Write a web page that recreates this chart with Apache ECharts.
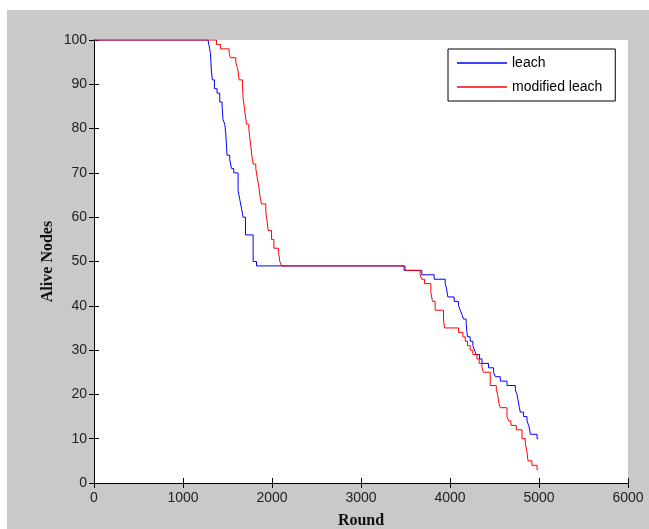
<!DOCTYPE html>
<html>
<head>
<meta charset="utf-8">
<script src="https://cdn.jsdelivr.net/npm/echarts@6/dist/echarts.min.js"></script>
<style>
  html, body { margin: 0; padding: 0; background: #fff; }
  #chart { position: absolute; left: 7px; top: 10px; width: 642px; height: 519px; }
</style>
</head>
<body>
<div id="chart"></div>
<script>
var seriesNames = ['leach', 'modified leach'];
var xTicks = [0, 1000, 2000, 3000, 4000, 5000, 6000];
var yTicks = [0, 10, 20, 30, 40, 50, 60, 70, 80, 90, 100];

// [round, alive nodes] - value holds from that round on
var leachData = [
    [0, 100], [1281, 100], [1290, 99], [1300, 98], [1308, 97], [1319, 93], [1330, 91],
    [1353, 89], [1383, 88], [1413, 86], [1439, 85], [1450, 82], [1469, 81], [1480, 79],
    [1495, 74], [1525, 73], [1545, 71], [1570, 70], [1619, 66], [1638, 64], [1657, 62],
    [1675, 60], [1702, 56], [1788, 50], [1826, 49], [3484, 48], [3683, 47], [3822, 46],
    [3946, 45], [3960, 44], [3976, 42], [4047, 41], [4096, 40], [4115, 39], [4135, 38],
    [4152, 37], [4182, 36], [4190, 34], [4197, 33], [4227, 32], [4257, 31], [4276, 30],
    [4294, 29], [4332, 28], [4359, 27], [4433, 26], [4490, 25], [4509, 24], [4565, 23],
    [4640, 22], [4734, 21], [4753, 20], [4762, 19], [4771, 18], [4780, 17], [4790, 16],
    [4827, 15], [4865, 14], [4884, 13], [4895, 12], [4903, 11], [4978, 10], [4990, 10]
];
var modifiedData = [
    [0, 100], [1376, 99], [1420, 98], [1518, 97], [1533, 96], [1593, 95], [1605, 94],
    [1619, 93], [1630, 91], [1668, 90], [1675, 87], [1694, 84], [1713, 81], [1739, 80],
    [1750, 78], [1762, 76], [1773, 74], [1788, 72], [1818, 71], [1833, 69], [1852, 67],
    [1863, 65], [1882, 63], [1931, 61], [1946, 59], [1957, 57], [1995, 55], [2021, 53],
    [2074, 52], [2088, 50], [2107, 49], [3496, 48], [3664, 47], [3683, 46], [3713, 45],
    [3785, 43], [3803, 41], [3833, 39], [3927, 37], [3938, 35], [4096, 34], [4145, 33],
    [4171, 32], [4197, 31], [4227, 30], [4257, 29], [4303, 28], [4328, 27], [4359, 26],
    [4377, 25], [4452, 22], [4520, 21], [4535, 20], [4550, 18], [4565, 17], [4640, 15],
    [4659, 14], [4685, 13], [4745, 12], [4809, 10], [4846, 9], [4865, 7], [4876, 5],
    [4921, 4], [4978, 3], [4990, 3]
];

var chart = echarts.init(document.getElementById('chart'));

var tickLabel = {
    fontFamily: 'Liberation Sans',
    fontSize: 14,
    color: '#222',
    formatter: function (v) { return String(v); }
};
var axisName = {
    fontFamily: 'Liberation Serif',
    fontWeight: 'bold',
    fontSize: 16,
    color: '#111'
};
var blackLine = { lineStyle: { color: '#000', width: 1 } };
var inTick = { show: true, inside: true, length: 5, lineStyle: { color: '#000', width: 1 } };

var option = {
    animation: false,
    backgroundColor: '#c9c9c9',
    grid: {
        left: 87, top: 30, right: 21, bottom: 46,
        outerBoundsMode: 'none',
        containLabel: false,
        show: true, backgroundColor: '#fff', borderWidth: 0
    },
    legend: {
        data: seriesNames,
        orient: 'vertical',
        left: 441, top: 39,
        padding: [7, 13, 7, 9],
        itemGap: 10,
        itemWidth: 50,
        itemHeight: 1.5,
        icon: 'rect',
        backgroundColor: '#fff',
        borderColor: '#000',
        borderWidth: 1,
        borderRadius: 0,
        textStyle: { fontFamily: 'Liberation Sans', fontSize: 14, color: '#000', lineHeight: 14 }
    },
    xAxis: [{
        type: 'value', min: xTicks[0], max: xTicks[xTicks.length - 1], interval: 1000,
        position: 'bottom',
        name: 'Round', nameLocation: 'middle', nameGap: 30, nameTextStyle: axisName,
        axisLine: blackLine, axisTick: inTick, splitLine: { show: false },
        axisLabel: Object.assign({ margin: 8 }, tickLabel)
    }, {
        type: 'value', min: xTicks[0], max: xTicks[xTicks.length - 1], interval: 1000,
        position: 'top',
        axisLine: blackLine, axisTick: inTick, splitLine: { show: false },
        axisLabel: { show: false }
    }],
    yAxis: [{
        type: 'value', min: yTicks[0], max: yTicks[yTicks.length - 1], interval: 10,
        position: 'left',
        name: 'Alive Nodes', nameLocation: 'middle', nameGap: 38, nameTextStyle: axisName,
        nameMoveOverlap: false,
        axisLine: { show: true, lineStyle: { color: '#000', width: 1 } },
        axisTick: inTick, splitLine: { show: false },
        axisLabel: Object.assign({ margin: 7 }, tickLabel)
    }, {
        type: 'value', min: yTicks[0], max: yTicks[yTicks.length - 1], interval: 10,
        position: 'right',
        axisLine: { show: true, lineStyle: { color: '#000', width: 1 } },
        axisTick: inTick, splitLine: { show: false },
        axisLabel: { show: false }
    }],
    series: [{
        name: seriesNames[0],
        type: 'line',
        step: 'end',
        symbol: 'none',
        data: leachData,
        itemStyle: { color: '#0000ff' },
        lineStyle: { color: '#0000ff', width: 1 }
    }, {
        name: seriesNames[1],
        type: 'line',
        step: 'end',
        symbol: 'none',
        data: modifiedData,
        itemStyle: { color: '#ff0000' },
        lineStyle: { color: '#ff0000', width: 1 }
    }]
};
chart.setOption(option);
</script>
</body>
</html>
